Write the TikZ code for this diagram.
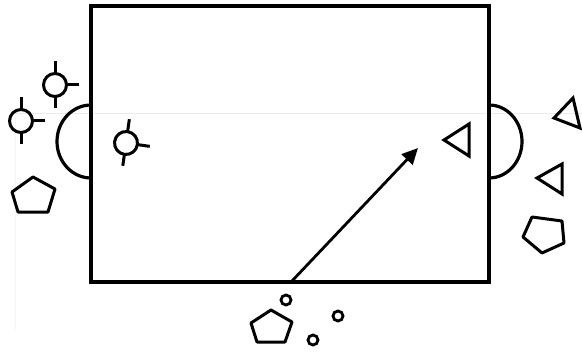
\documentclass[tikz,border=0pt]{standalone}
\usetikzlibrary{arrows.meta}
\begin{document}
\begin{tikzpicture}[x=1pt,y=-1pt,
  wall/.style={line width=4pt,line cap=butt,line join=miter},
  door/.style={line width=3.2pt},
  figline/.style={line width=3pt,line join=round},
  xhair/.pic={\draw[figline] (0,0) circle (11.5);
    \draw[figline,line cap=butt] (0,-11.5) -- (0,-24) (0,11.5) -- (0,23) (11.5,0) -- (24,0);}]
\useasboundingbox (0,0) rectangle (582,353);
% faint scan lines
\draw[black!8,line width=0.6pt] (15,113) -- (582,113);
\draw[black!4,line width=0.6pt] (15,113) -- (15,330);
% room
\coordinate (tl) at (91,6);
\coordinate (br) at (489,282);
\draw[wall] (tl) rectangle (br);
% doors
\draw[door] (91,105) arc[start angle=90,end angle=270,x radius=34,y radius=-36.5];
\draw[door] (489,105) arc[start angle=90,end angle=-90,x radius=33,y radius=-36.5];
% crosshair figures
\pic at (55,85) {xhair};
\pic at (21,121) {xhair};
\pic[rotate=-8] at (126,143) {xhair};
% pentagons
\draw[figline] (33,177) -- (55,189) -- (48,212) -- (18,212) -- (12,192) -- cycle;
\draw[figline] (532,217) -- (562,221) -- (564,243) -- (542,253) -- (523,237) -- cycle;
\draw[figline] (271,310) -- (292,322) -- (285,342) -- (257,342) -- (251,323) -- cycle;
% triangles
\draw[figline,line join=miter] (444,140) -- (469,124) -- (469,156) -- cycle;
\draw[figline,line join=miter] (573,98) -- (580,128) -- (554,118) -- cycle;
\draw[figline,line join=miter] (537,178) -- (562,164) -- (562,194) -- cycle;
% small circles
\draw[line width=2.8pt] (286,300) circle (5);
\draw[line width=2.8pt] (338,316) circle (5);
\draw[line width=2.8pt] (313,340) circle (5);
% arrow
\coordinate (a0) at (292,281);
\coordinate (a1) at (418,148);
\draw[line width=2.8pt,-{Triangle[length=16pt,width=15pt]}] (a0) -- (a1);
\end{tikzpicture}
\end{document}
